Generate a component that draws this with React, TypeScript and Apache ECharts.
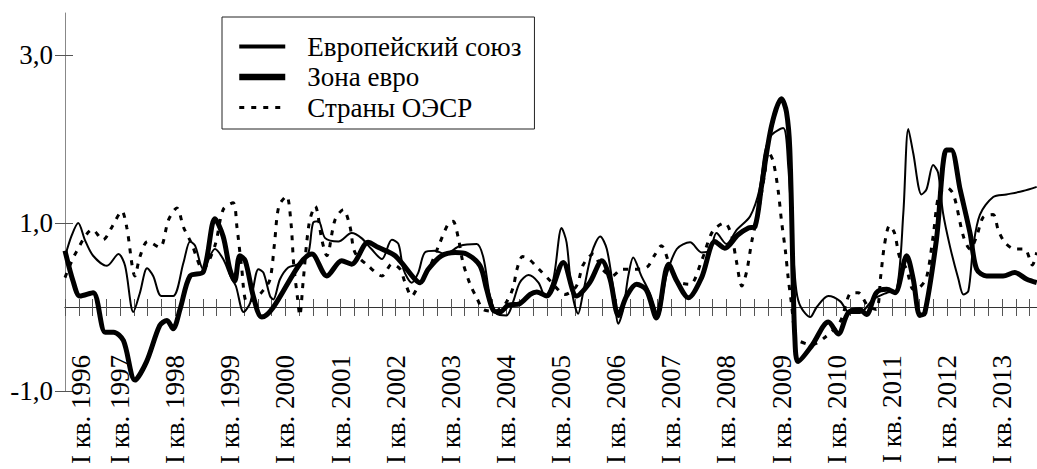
import React, { useEffect, useRef } from 'react';
import * as echarts from 'echarts';

const seriesNames = ['Европейский союз', 'Зона евро', 'Страны ОЭСР'];
const yearLabels = ['1996','1997','1998','1999','2000','2001','2002','2003','2004','2005','2006','2007','2008','2009','2010','2011','2012','2013'];
const yTickValues = [-1, 1, 3];

// [year fraction, value]
const eu: [number, number][] = [
  [1996.0, 0.6], [1996.12, 0.85], [1996.24, 1.0], [1996.36, 0.8], [1996.51, 0.61], [1996.76, 0.49], [1996.97, 0.63],
  [1997.09, 0.49], [1997.24, -0.06], [1997.36, 0.17], [1997.49, 0.46], [1997.6, 0.37], [1997.75, 0.13], [1997.96, 0.13],
  [1998.15, 0.53], [1998.27, 0.78], [1998.36, 0.73], [1998.51, 0.45], [1998.72, 0.69], [1998.87, 0.57], [1999.0, 0.37],
  [1999.1, 0.25], [1999.24, -0.06], [1999.36, 0.05], [1999.51, 0.45], [1999.6, 0.41], [1999.72, 0.13], [1999.78, 0.09],
  [1999.9, 0.33], [2000.05, 0.47], [2000.23, 0.51], [2000.41, 0.63], [2000.5, 1.0], [2000.6, 1.02], [2000.72, 0.82],
  [2000.96, 0.78], [2001.2, 0.88], [2001.38, 0.82], [2001.56, 0.69], [2001.75, 0.57], [2001.93, 0.8], [2002.05, 0.75],
  [2002.14, 0.45], [2002.29, 0.29], [2002.41, 0.41], [2002.53, 0.65], [2002.71, 0.67], [2002.89, 0.63], [2003.17, 0.73],
  [2003.47, 0.75], [2003.59, 0.59], [2003.71, 0.13], [2003.83, -0.08], [2004.01, -0.1], [2004.13, 0.06], [2004.25, 0.29],
  [2004.41, 0.38], [2004.59, 0.29], [2004.71, 0.13], [2004.86, 0.33], [2005.01, 0.94], [2005.1, 0.77], [2005.19, 0.21],
  [2005.31, -0.08], [2005.4, 0.17], [2005.56, 0.65], [2005.71, 0.84], [2005.83, 0.69], [2005.95, 0.21], [2006.04, -0.2],
  [2006.13, -0.02], [2006.22, 0.37], [2006.31, 0.59], [2006.45, 0.38], [2006.62, 0.15], [2006.76, -0.1], [2006.91, 0.37],
  [2007.1, 0.69], [2007.34, 0.77], [2007.55, 0.65], [2007.7, 0.67], [2007.82, 0.88], [2008.0, 0.75], [2008.19, 0.92],
  [2008.43, 1.08], [2008.6, 1.4], [2008.7, 1.85], [2008.82, 2.05], [2009.03, 2.13], [2009.12, 1.69], [2009.21, 0.67],
  [2009.27, 0.19], [2009.35, 0.0], [2009.52, -0.12], [2009.64, 0.0], [2009.85, 0.13], [2010.06, 0.07], [2010.24, -0.07],
  [2010.42, -0.07], [2010.66, 0.09], [2010.91, 0.17], [2011.09, 0.21], [2011.21, 1.12], [2011.3, 2.12], [2011.39, 1.83],
  [2011.54, 1.34], [2011.63, 1.4], [2011.75, 1.69], [2011.84, 1.6], [2011.93, 1.12], [2012.06, 0.71], [2012.21, 0.33],
  [2012.3, 0.15], [2012.39, 0.19], [2012.48, 0.73], [2012.6, 1.1], [2012.84, 1.31], [2013.08, 1.34], [2013.38, 1.38],
  [2013.63, 1.43],
];

const ea: [number, number][] = [
  [1996.0, 0.67], [1996.15, 0.3], [1996.27, 0.13], [1996.51, 0.17], [1996.73, -0.3], [1996.88, -0.3], [1997.06, -0.4],
  [1997.27, -0.87], [1997.48, -0.65], [1997.72, -0.22], [1997.85, -0.16], [1997.96, -0.26], [1998.09, -0.02],
  [1998.27, 0.37], [1998.51, 0.42], [1998.72, 1.05], [1998.87, 0.84], [1998.99, 0.45], [1999.08, 0.31], [1999.17, 0.61],
  [1999.27, 0.55], [1999.42, 0.12], [1999.57, -0.12], [2000.48, 0.63], [2000.75, 0.37], [2001.02, 0.55], [2001.2, 0.51],
  [2001.5, 0.77], [2001.68, 0.71], [2001.99, 0.61], [2002.35, 0.33], [2002.44, 0.29], [2002.59, 0.45], [2002.83, 0.61],
  [2003.08, 0.65], [2003.29, 0.63], [2003.53, 0.49], [2003.65, 0.21], [2003.77, -0.04], [2003.89, -0.06], [2004.04, 0.02],
  [2004.25, 0.04], [2004.44, 0.15], [2004.56, 0.18], [2004.74, 0.13], [2005.04, 0.53], [2005.28, 0.13], [2005.52, 0.29],
  [2005.74, 0.55], [2005.89, 0.33], [2006.04, -0.1], [2006.19, 0.13], [2006.37, 0.27], [2006.55, 0.2], [2006.73, -0.13],
  [2006.95, 0.51], [2007.1, 0.31], [2007.31, 0.11], [2007.55, 0.35], [2007.79, 0.78], [2007.97, 0.7], [2008.21, 0.86],
  [2008.4, 0.94], [2008.52, 0.96], [2008.64, 1.45], [2008.82, 2.16], [2009.0, 2.48], [2009.09, 2.32], [2009.15, 1.88],
  [2009.21, 0.33], [2009.24, -0.34], [2009.3, -0.65], [2009.55, -0.46], [2009.85, -0.18], [2010.03, -0.32],
  [2010.21, -0.07], [2010.42, -0.03], [2010.54, -0.09], [2010.72, 0.17], [2010.91, 0.21], [2011.06, 0.17], [2011.27, 0.61],
  [2011.39, 0.33], [2011.51, -0.1], [2011.6, -0.07], [2011.81, 0.8], [2011.99, 1.87], [2012.08, 1.87], [2012.24, 1.4],
  [2012.42, 0.88], [2012.54, 0.45], [2012.72, 0.37], [2013.02, 0.37], [2013.23, 0.41], [2013.45, 0.33], [2013.63, 0.29],
];

const oecd: [number, number][] = [
  [1996.0, 0.35], [1996.2, 0.65], [1996.5, 0.92], [1996.69, 0.8], [1996.85, 0.95], [1997.03, 1.14], [1997.12, 0.95],
  [1997.27, 0.37], [1997.36, 0.6], [1997.5, 0.78], [1997.72, 0.71], [1997.88, 1.04], [1998.03, 1.18], [1998.15, 0.95],
  [1998.3, 0.75], [1998.5, 0.45], [1998.72, 0.73], [1998.87, 1.16], [1999.05, 1.24], [1999.12, 0.95], [1999.2, 0.5],
  [1999.3, 0.06], [1999.45, 0.1], [1999.6, 0.2], [1999.72, 0.33], [1999.8, 0.75], [1999.88, 1.2], [2000.02, 1.32],
  [2000.1, 1.0], [2000.15, 0.5], [2000.22, 0.1], [2000.26, -0.1], [2000.32, 0.3], [2000.43, 1.0], [2000.54, 1.2],
  [2000.66, 0.8], [2000.75, 0.61], [2000.9, 1.04], [2001.05, 1.16], [2001.17, 0.96], [2001.26, 0.65], [2001.5, 0.49],
  [2001.75, 0.37], [2001.93, 0.51], [2002.08, 0.45], [2002.17, 0.29], [2002.29, 0.13], [2002.41, 0.25], [2002.6, 0.45],
  [2002.78, 0.73], [2002.96, 1.0], [2003.04, 1.02], [2003.13, 0.84], [2003.22, 0.53], [2003.35, 0.27], [2003.47, 0.11],
  [2003.59, -0.03], [2003.8, -0.05], [2004.0, 0.05], [2004.13, 0.23], [2004.2, 0.45], [2004.3, 0.6], [2004.4, 0.58],
  [2004.6, 0.45], [2004.82, 0.3], [2005.0, 0.17], [2005.07, 0.15], [2005.28, 0.25], [2005.4, 0.5], [2005.58, 0.63],
  [2005.75, 0.45], [2005.93, 0.37], [2006.1, 0.45], [2006.3, 0.45], [2006.55, 0.47], [2006.7, 0.62], [2006.82, 0.73],
  [2006.97, 0.5], [2007.1, 0.31], [2007.34, 0.27], [2007.55, 0.55], [2007.75, 0.9], [2007.97, 1.0], [2008.09, 0.86],
  [2008.18, 0.55], [2008.28, 0.25], [2008.37, 0.43], [2008.46, 0.78], [2008.58, 1.14], [2008.7, 1.61], [2008.76, 1.85],
  [2008.85, 1.73], [2008.94, 1.38], [2009.0, 1.02], [2009.07, 0.67], [2009.12, 0.35], [2009.18, 0.04], [2009.25, -0.36],
  [2009.3, -0.4], [2009.55, -0.45], [2009.79, -0.36], [2010.06, -0.18], [2010.27, 0.17], [2010.39, 0.17], [2010.57, 0.01],
  [2010.72, -0.03], [2010.8, 0.37], [2010.87, 0.75], [2010.96, 0.97], [2011.05, 0.88], [2011.14, 0.6], [2011.27, 0.45],
  [2011.39, 0.21], [2011.5, 0.23], [2011.63, 0.35], [2011.75, 0.84], [2011.86, 1.35], [2012.0, 1.42], [2012.12, 1.34],
  [2012.3, 0.84], [2012.42, 0.69], [2012.54, 0.84], [2012.66, 1.07], [2012.84, 1.1], [2012.93, 0.92], [2013.05, 0.77],
  [2013.23, 0.69], [2013.41, 0.69], [2013.55, 0.5], [2013.63, 0.65],
];

const X_MIN = 1996;
const X_MAX = 2013.635;
const FONT = 'Liberation Serif';
const FS = 27;

export default function App() {
  const ref = useRef<HTMLDivElement>(null);
  useEffect(() => {
    document.body.style.margin = '0';
    if (!ref.current) return;
    const chart = echarts.init(ref.current, null, { renderer: 'svg' });

    const quarterTicks: number[] = [];
    for (let k = 0; X_MIN + k * 0.25 <= X_MAX; k++) quarterTicks.push(X_MIN + k * 0.25);
    const labelValues = yearLabels.map((y, i) => (i === 0 ? Number(y) + 0.29 : Number(y)));
    const labelFor = (v: number) => {
      const idx = labelValues.findIndex((lv) => Math.abs(lv - v) < 1e-6);
      return idx >= 0 ? 'I кв. ' + yearLabels[idx] : '';
    };

    const xBase = { type: 'value', min: X_MIN, max: X_MAX, splitLine: { show: false } };
    const yBase = { type: 'value', min: -1, max: 3.5, interval: 2, splitLine: { show: false } };

    chart.setOption({
      animation: false,
      textStyle: { fontFamily: FONT },
      grid: { left: 65, right: 0, top: 13, bottom: 78, containLabel: false, outerBoundsMode: 'none' },
      legend: {
        orient: 'vertical',
        left: 222,
        top: 17,
        padding: [16, 13, 8, 14],
        borderColor: '#222',
        borderWidth: 1,
        itemWidth: 46,
        itemHeight: 14,
        itemGap: 3.5,
        selectedMode: false,
        itemStyle: { opacity: 0 },
        textStyle: { fontFamily: FONT, fontSize: FS, color: '#000', padding: [0, 0, 0, 17] },
        data: [
          { name: seriesNames[0], lineStyle: { width: 4 } },
          { name: seriesNames[1], lineStyle: { width: 6.5 } },
          { name: seriesNames[2], lineStyle: { width: 3 } },
        ],
      },
      xAxis: [
        {
          ...xBase,
          position: 'bottom',
          axisLine: { show: true, onZero: true, lineStyle: { color: '#333', width: 1 } },
          axisTick: { show: true, customValues: quarterTicks, length: 9, lineStyle: { color: '#555', width: 1 } },
          axisLabel: {
            customValues: labelValues,
            rotate: 90,
            margin: -36,
            fontFamily: FONT,
            fontSize: FS,
            color: '#000',
            formatter: (v: number) => labelFor(v),
          },
        },
        {
          ...xBase,
          position: 'bottom',
          axisLine: { show: true, onZero: true, lineStyle: { color: '#333', width: 1 } },
          axisTick: { show: true, inside: true, customValues: quarterTicks, length: 8, lineStyle: { color: '#555', width: 1 } },
          axisLabel: { show: false },
        },
      ],
      yAxis: [
        {
          ...yBase,
          position: 'left',
          axisLine: { show: true, onZero: false, lineStyle: { color: '#888', width: 1 } },
          axisTick: { show: true, customValues: yTickValues, length: 10, lineStyle: { color: '#555' } },
          axisLabel: {
            customValues: yTickValues,
            margin: 12,
            fontFamily: FONT,
            fontSize: FS,
            color: '#000',
            formatter: (v: number) => v.toFixed(1).replace('.', ','),
          },
        },
        {
          ...yBase,
          position: 'left',
          axisLine: { show: false, onZero: false },
          axisTick: { show: true, inside: true, customValues: yTickValues, length: 8, lineStyle: { color: '#555' } },
          axisLabel: { show: false },
        },
      ],
      series: [
        {
          name: seriesNames[0], type: 'line', data: eu, symbol: 'none', smooth: 0.3,
          lineStyle: { color: '#000', width: 2 }, itemStyle: { color: '#000' },
        },
        {
          name: seriesNames[1], type: 'line', data: ea, symbol: 'none', smooth: 0.3,
          lineStyle: { color: '#000', width: 5 }, itemStyle: { color: '#000' },
        },
        {
          name: seriesNames[2], type: 'line', data: oecd, symbol: 'none', smooth: 0.3,
          lineStyle: { color: '#000', width: 3, type: [5, 7] }, itemStyle: { color: '#000' },
        },
      ],
    });
    return () => chart.dispose();
  }, []);
  return <div ref={ref} style={{ width: 1037, height: 469 }} />;
}
